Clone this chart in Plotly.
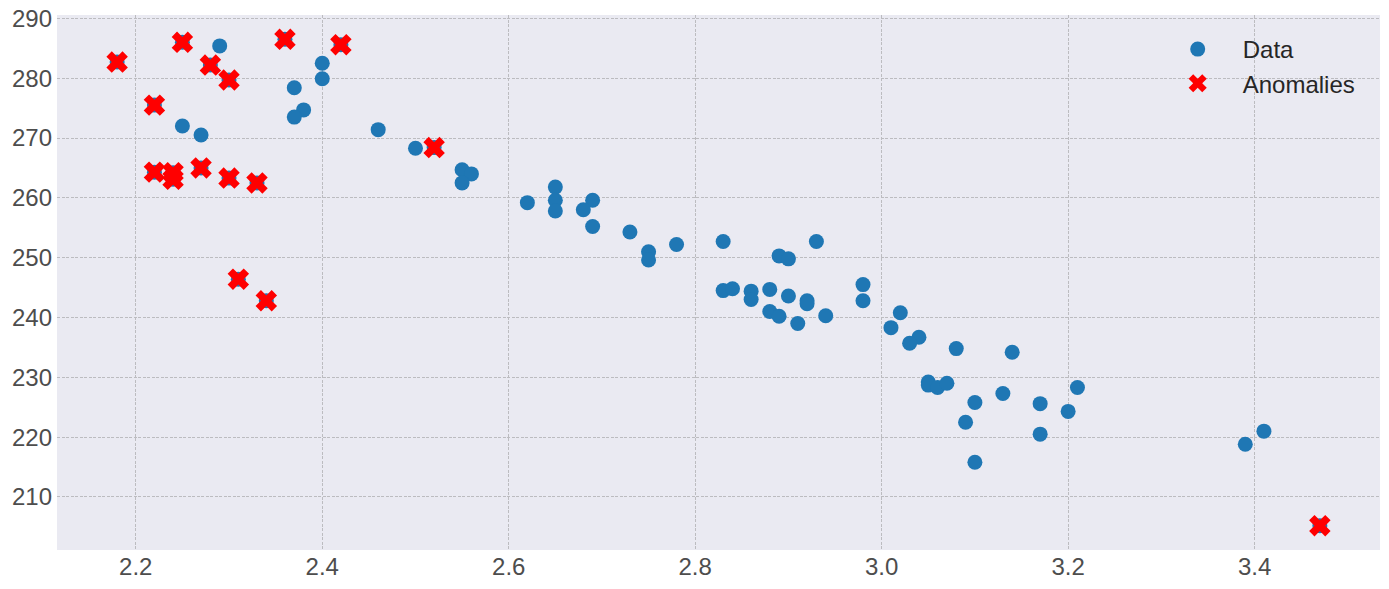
import plotly.graph_objects as go

# ---- data ----
normal_x = [2.29, 2.40, 2.40, 2.37, 2.38, 2.37, 2.25, 2.27, 2.46, 2.50,
            2.55, 2.56, 2.55, 2.62, 2.65, 2.65, 2.65, 2.69, 2.68, 2.69, 2.73, 2.75, 2.75, 2.78,
            2.83, 2.89, 2.90, 2.93, 2.83, 2.84, 2.86, 2.86, 2.88, 2.90, 2.92, 2.92, 2.88, 2.89, 2.91, 2.94,
            2.98, 2.98, 3.02, 3.01, 3.04, 3.03, 3.08, 3.14, 3.05, 3.05, 3.06, 3.07, 3.13, 3.10, 3.09,
            3.17, 3.17, 3.20, 3.21, 3.10, 3.39, 3.41]
normal_y = [285.4, 282.5, 279.9, 278.4, 274.7, 273.5, 272.0, 270.5, 271.4, 268.3,
            264.7, 264.0, 262.5, 259.2, 261.8, 259.6, 257.8, 259.6, 258.0, 255.2, 254.3, 251.0, 249.6, 252.2,
            252.7, 250.3, 249.8, 252.7, 244.5, 244.8, 244.4, 243.0, 244.7, 243.6, 242.8, 242.3, 241.0, 240.2, 239.0, 240.3,
            245.5, 242.8, 240.8, 238.3, 236.7, 235.7, 234.8, 234.2, 229.2, 228.7, 228.3, 229.0, 227.3, 225.8, 222.5,
            225.6, 220.5, 224.3, 228.3, 215.8, 218.8, 221.0]

anomaly_x = [2.18, 2.25, 2.28, 2.30, 2.22, 2.36, 2.42, 2.52, 2.22, 2.24, 2.24, 2.27, 2.30, 2.33, 2.31, 2.34, 3.47]
anomaly_y = [282.7, 286.0, 282.2, 279.7, 275.5, 286.5, 285.6, 268.4, 264.3, 264.2, 263.1, 265.0, 263.3, 262.5, 246.4, 242.8, 205.2]

# all observations (anomalies are part of the data)
data_x = normal_x + anomaly_x
data_y = normal_y + anomaly_y

x_ticks = [2.2, 2.4, 2.6, 2.8, 3.0, 3.2, 3.4]
x_tick_labels = ["2.2", "2.4", "2.6", "2.8", "3.0", "3.2", "3.4"]
y_ticks = [210, 220, 230, 240, 250, 260, 270, 280, 290]
y_tick_labels = ["210", "220", "230", "240", "250", "260", "270", "280", "290"]


def padded(vals, frac=0.05):
    lo, hi = min(vals), max(vals)
    span = hi - lo
    return [lo - frac * span, hi + frac * span]


fig = go.Figure()
fig.add_trace(go.Scatter(
    x=data_x, y=data_y, mode="markers", name="Data",
    marker=dict(color="#1f77b4", size=15, line=dict(width=0)),
))
fig.add_trace(go.Scatter(
    x=anomaly_x, y=anomaly_y, mode="markers", name="Anomalies",
    marker=dict(color="#ff0000", symbol="x", size=19, line=dict(width=0)),
))

font_family = "Liberation Sans, Arial, sans-serif"
grid = dict(showgrid=True, gridcolor="#bcbcc0", gridwidth=0.8, griddash="3px,1.5px",
            zeroline=False, showline=False, ticks="", automargin=False,
            ticklabeloverflow="allow",
            tickfont=dict(family=font_family, size=24, color="#4d4d4d"))

fig.update_layout(
    width=1389, height=589,
    margin=dict(l=57, r=9, t=15, b=39, autoexpand=False),
    paper_bgcolor="white",
    plot_bgcolor="#EAEAF2",
    showlegend=True,
    legend=dict(
        x=0.8282, y=0.9776, xanchor="left", yanchor="top",
        bgcolor="rgba(0,0,0,0)", borderwidth=0,
        font=dict(family=font_family, size=24, color="#262626"),
        itemwidth=80,
    ),
    xaxis=dict(range=padded(data_x), tickvals=x_ticks, ticktext=x_tick_labels, **grid),
    yaxis=dict(range=padded(data_y), tickvals=y_ticks, ticktext=y_tick_labels,
               ticklabelstandoff=4, **grid),
)

# remove the default page margin so the figure sits at the window's top-left
fig.write_html("out.html", config={"displayModeBar": False},
               post_script="document.body.style.margin='0px';")
